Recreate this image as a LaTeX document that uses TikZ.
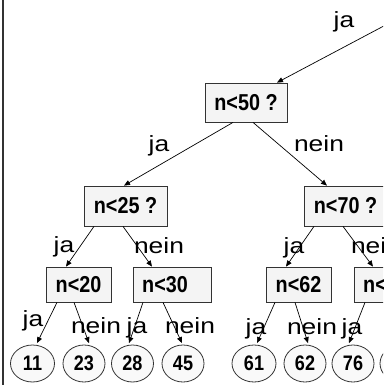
\documentclass[tikz,border=0pt]{standalone}
\usepackage{fontspec}
\usetikzlibrary{arrows.meta,shapes.geometric}
\newfontfamily\lblfont[FakeStretch=1.2]{Liberation Sans}
\newfontfamily\boxfont[FakeStretch=0.86]{Liberation Sans}
\definecolor{boxfill}{HTML}{F4F4F4}
\definecolor{circfill}{HTML}{F9F9F9}
\definecolor{edgecol}{HTML}{333333}
\tikzset{
  qbox/.style={draw=edgecol, line width=0.8pt, fill=boxfill, inner sep=0pt,
    font=\boxfont\bfseries\fontsize{23}{24}\selectfont},
  leaf/.style={ellipse, draw=edgecol, line width=0.8pt, fill=circfill, inner sep=0pt,
    minimum width=42pt, minimum height=37pt,
    font=\boxfont\bfseries\fontsize{21}{22}\selectfont},
  lbl/.style={anchor=base, inner sep=0pt, font=\lblfont\fontsize{22}{24}\selectfont},
  arr/.style={draw=black, line width=0.7pt, -{Triangle[length=6pt,width=5pt]}},
}
\begin{document}
\begin{tikzpicture}[x=1pt,y=1pt]
\useasboundingbox (0,0) rectangle (383,-385);
\clip (0,0) rectangle (383,-385);
% left frame line
\draw[edgecol, line width=2pt] (3,0) -- (3,-385);
% decision boxes
\node[qbox, minimum width=82pt, minimum height=39pt] (n50) at (246,-102.5) {n<50 ?};
\node[qbox, minimum width=83pt, minimum height=40pt] (n25) at (125.5,-206) {n<25 ?};
\node[qbox, minimum width=83pt, minimum height=40pt] (n70) at (345.5,-206) {n<70 ?};
\node[qbox, minimum width=65pt, minimum height=35pt] (n20) at (78.5,-284.5) {n<20};
\node[qbox, minimum width=78pt, minimum height=35pt] (n30) at (172,-284.5) {n<30\hspace*{14pt}};
\node[qbox, minimum width=65pt, minimum height=35pt] (n62) at (298.5,-284.5) {n<62};
\node[qbox, minimum width=78pt, minimum height=35pt] (n80) at (393,-284.5) {n<80\hspace*{14pt}};
% leaves
\node[leaf, minimum width=44pt] (c11) at (32.5,-363.5) {11};
\node[leaf] (c23) at (84,-363.5) {23};
\node[leaf] (c28) at (132.5,-363.5) {28};
\node[leaf] (c45) at (183,-363.5) {45};
\node[leaf, minimum width=44pt] (c61) at (254,-363.5) {61};
\node[leaf] (c62) at (305,-363.5) {62};
\node[leaf] (c76) at (353,-363.5) {76};
\node[leaf] (c85) at (401,-363.5) {85};
% incoming edge from above
\coordinate (src) at (400,-17.4);
\draw[arr] (src) -- ([xshift=31pt]n50.north);
\node[lbl] (l0) at (344,-28) {ja};
% level 1
\draw[arr] ([xshift=-13pt]n50.south) -- ([xshift=-1.5pt]n25.north);
\draw[arr] ([xshift=7pt]n50.south) -- ([xshift=-18.5pt]n70.north);
\node[lbl] (l1a) at (159,-151) {ja};
\node[lbl] (l1b) at (319,-151) {nein};
% level 2
\draw[arr] ([xshift=-31.5pt]n25.south) -- ([xshift=-12.5pt]n20.north);
\draw[arr] ([xshift=-2.5pt]n25.south) -- ([xshift=-20pt]n30.north);
\draw[arr] ([xshift=-31.5pt]n70.south) -- ([xshift=-12.5pt]n62.north);
\draw[arr] ([xshift=-2.5pt]n70.south) -- ([xshift=-20pt]n80.north);
\node[lbl] (l2a) at (64,-252) {ja};
\node[lbl] (l2b) at (159,-253) {nein};
\node[lbl] (l2c) at (294,-253) {ja};
\node[lbl] (l2d) at (376,-253) {nein};
% level 3
\draw[arr] ([xshift=-21.5pt]n20.south) -- ([xshift=4.5pt,yshift=1.5pt]c11.north);
\draw[arr] ([xshift=-4.5pt]n20.south) -- ([xshift=5pt,yshift=1.5pt]c23.north);
\draw[arr] ([xshift=-29pt]n30.south) -- ([xshift=-3.5pt,yshift=1.5pt]c28.north);
\draw[arr] ([xshift=-9pt]n30.south) -- ([xshift=-1pt,yshift=1.5pt]c45.north);
\draw[arr] ([xshift=-23.5pt]n62.south) -- ([xshift=3pt,yshift=1.5pt]c61.north);
\draw[arr] ([xshift=-3.5pt]n62.south) -- ([xshift=3pt,yshift=1.5pt]c62.north);
\draw[arr] ([xshift=-28pt]n80.south) -- ([xshift=-4pt,yshift=1.5pt]c76.north);
\node[lbl] (l3a) at (33,-326) {ja};
\node[lbl] (l3b) at (96,-333) {nein};
\node[lbl] (l3c) at (137,-333) {ja};
\node[lbl] (l3d) at (190,-333) {nein};
\node[lbl] (l3e) at (256,-334) {ja};
\node[lbl] (l3f) at (312,-334) {nein};
\node[lbl] (l3g) at (352,-334) {ja};
\end{tikzpicture}
\end{document}
